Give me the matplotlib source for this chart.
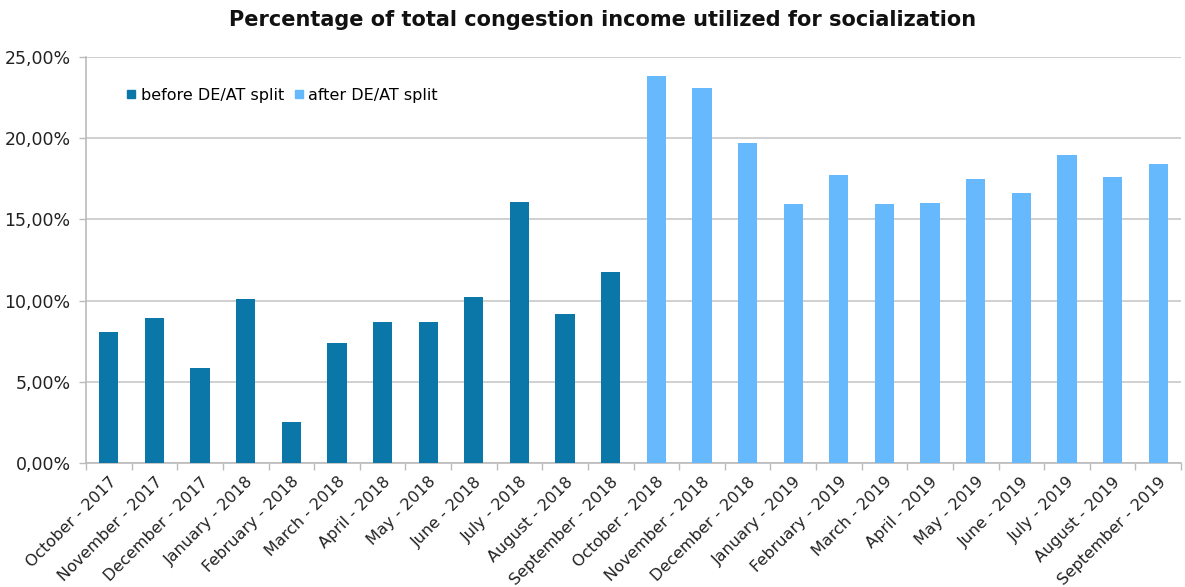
import numpy as np
import matplotlib
matplotlib.use("Agg")
import matplotlib.pyplot as plt
from matplotlib.ticker import FuncFormatter, FixedLocator
from matplotlib.lines import Line2D

plt.rcParams["font.family"] = ["DejaVu Sans"]

months_before = ["October - 2017", "November - 2017", "December - 2017", "January - 2018",
                 "February - 2018", "March - 2018", "April - 2018", "May - 2018",
                 "June - 2018", "July - 2018", "August - 2018", "September - 2018"]
months_after = ["October - 2018", "November - 2018", "December - 2018", "January - 2019",
                "February - 2019", "March - 2019", "April - 2019", "May - 2019",
                "June - 2019", "July - 2019", "August - 2019", "September - 2019"]
share_before = [8.07, 8.93, 5.85, 10.1, 2.5, 7.4, 8.7, 8.7, 10.2, 16.1, 9.2, 11.76]
share_after = [23.85, 23.07, 19.72, 15.93, 17.75, 15.93, 15.99, 17.47, 16.6, 18.97, 17.6, 18.43]

c_before = "#0A77A8"
c_after = "#66B9FD"

fig = plt.figure(figsize=(11.85, 5.87), dpi=100)
ax = fig.add_axes([86 / 1185, 1 - 463 / 587, 1095 / 1185, 406 / 587])

n_b = len(months_before)
x_b = np.arange(n_b)
x_a = np.arange(n_b, n_b + len(months_after))
ax.bar(x_b, share_before, width=0.42, color=c_before, zorder=3)
ax.bar(x_a, share_after, width=0.42, color=c_after, zorder=3)

ax.set_xlim(-0.5, n_b + len(months_after) - 0.5)
ax.set_ylim(0, 25)
ax.set_yticks(np.arange(0, 26, 5))
ax.yaxis.set_major_formatter(FuncFormatter(lambda v, p: f"{v:.2f}%".replace(".", ",")))
ax.grid(axis="y", color="#c8c8c8", lw=1.2, zorder=0)

labels = months_before + months_after
ax.set_xticks(np.arange(len(labels)))
ax.set_xticklabels(labels, rotation=45, ha="right", rotation_mode="anchor")
ax.tick_params(axis="x", which="major", length=0, pad=8, labelsize=11.5)
ax.xaxis.set_minor_locator(FixedLocator(np.arange(-0.5, len(labels), 1.0)))
ax.tick_params(axis="x", which="minor", length=5, color="#bbbbbb", width=1)
ax.tick_params(axis="y", length=5, color="#bbbbbb", width=1, pad=6, labelsize=12.5)
ax.tick_params(labelcolor="#222222")

for s in ["top", "right"]:
    ax.spines[s].set_visible(False)
for s in ["left", "bottom"]:
    ax.spines[s].set_color("#bbbbbb")
    ax.spines[s].set_linewidth(1.2)

handles = [Line2D([], [], marker="s", ls="", color=c_before, markersize=6),
           Line2D([], [], marker="s", ls="", color=c_after, markersize=6)]
ax.legend(handles, ["before DE/AT split", "after DE/AT split"], ncol=2, frameon=False,
          loc="upper left", bbox_to_anchor=(0.021, 0.96), fontsize=11.5,
          handletextpad=0.1, columnspacing=0.4, handlelength=1.0)

fig.text(603 / 1185, 1 - 20 / 587, "Percentage of total congestion income utilized for socialization",
         ha="center", va="center", fontsize=15, fontweight="bold", color="#111111")

fig.savefig("out.png", dpi=100)
